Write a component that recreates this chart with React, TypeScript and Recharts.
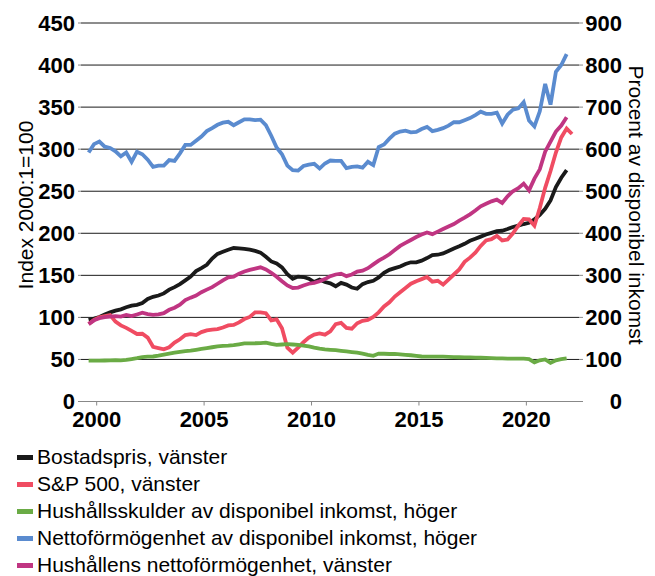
import { LineChart, Line, XAxis, YAxis, CartesianGrid, Legend, Label } from 'recharts';

const FONT = '"Liberation Sans", Arial, sans-serif';

// kvartal, första punkten 1999K4
const quarters = [
  '1999K4',
  '2000K1', '2000K2', '2000K3', '2000K4', '2001K1', '2001K2', '2001K3', '2001K4',
  '2002K1', '2002K2', '2002K3', '2002K4', '2003K1', '2003K2', '2003K3', '2003K4',
  '2004K1', '2004K2', '2004K3', '2004K4', '2005K1', '2005K2', '2005K3', '2005K4',
  '2006K1', '2006K2', '2006K3', '2006K4', '2007K1', '2007K2', '2007K3', '2007K4',
  '2008K1', '2008K2', '2008K3', '2008K4', '2009K1', '2009K2', '2009K3', '2009K4',
  '2010K1', '2010K2', '2010K3', '2010K4', '2011K1', '2011K2', '2011K3', '2011K4',
  '2012K1', '2012K2', '2012K3', '2012K4', '2013K1', '2013K2', '2013K3', '2013K4',
  '2014K1', '2014K2', '2014K3', '2014K4', '2015K1', '2015K2', '2015K3', '2015K4',
  '2016K1', '2016K2', '2016K3', '2016K4', '2017K1', '2017K2', '2017K3', '2017K4',
  '2018K1', '2018K2', '2018K3', '2018K4', '2019K1', '2019K2', '2019K3', '2019K4',
  '2020K1', '2020K2', '2020K3', '2020K4', '2021K1', '2021K2', '2021K3', '2021K4',
  '2022K1', '2022K2',
];

const bostadspris = [
  97, 98.5, 100.5, 103.5, 106, 108, 109.6, 112, 114, 115,
  117, 122, 124.5, 126, 128.5, 133, 136, 139.5, 144, 148.5,
  155, 158.5, 162.5, 170, 175.5, 178, 180.5, 182.5, 182, 181.5,
  180.5, 179, 177, 172, 166.5, 164, 159.5, 151.5, 146, 148.5,
  148, 146, 142, 145, 142, 140.5, 137, 141, 139, 135.5,
  134, 139.5, 142, 143.5, 147.5, 153, 156.5, 158.5, 160.5, 163.5,
  165.5, 165.5, 167.5, 170.5, 174, 174.5, 176, 179, 182, 184.5,
  187.5, 191, 193.5, 196, 198.5, 200.5, 202.5, 203, 205, 207.5,
  209, 211, 212.5, 216.5, 222, 229, 239, 255, 266, 275,
];

const sp500 = [
  92, 97, 100, 101.5, 102.8, 95, 90.5, 87.5, 84, 80.3,
  80.5, 76, 65, 63.5, 62, 64.5, 70, 74, 79, 80,
  79, 82.5, 84.5, 85.5, 86, 88, 90.5, 91, 94, 98,
  100.5, 106, 106, 105, 96.5, 97.7, 87, 64, 58, 64,
  70.5, 76, 79.5, 81, 79.5, 83.5, 92, 93.5, 87.5, 86.5,
  93, 96, 97, 100.5, 106, 113, 118, 124.8, 130, 135,
  140, 143, 145.5, 148, 142.5, 143.5, 139, 145, 151, 157,
  166, 171, 177, 185, 191.5, 193, 197, 191.5, 192.5, 200,
  209, 217, 216.5, 209, 230, 254, 274, 296, 314, 324.5,
  318,
];

const hushallsskulder = [
  97, 97, 97, 97.5, 98, 98.5, 98, 99, 101, 103,
  105.5, 106.5, 107, 109, 111.5, 114, 116, 118, 120, 121,
  123, 125, 127, 129, 131, 132.5, 132.7, 134, 136, 138,
  138.4, 138.5, 139, 139.8, 137, 134.5, 135.5, 136.5, 135.5, 134.4,
  133, 131, 128, 125.5, 124, 123, 122, 120.5, 119, 117.5,
  116, 114, 111, 108.5, 114, 113.5, 113, 113, 112, 111,
  110, 108.5, 107, 106.5, 106.5, 106.5, 106.5, 106, 105.5, 105.2,
  105, 104.7, 104.5, 104, 103.5, 103, 102.7, 102.5, 102, 102,
  102, 102, 101, 93, 98, 100, 92, 98, 100.5, 102.5,
];

const nettoformogenhetAndel = [
  592, 612, 618, 606, 603, 595, 583, 592, 570, 594,
  588, 575, 558, 561, 561, 574, 572, 590, 610, 610,
  620, 630, 643, 650, 658, 663, 665, 657, 664, 671,
  671, 669, 670, 657, 632, 604, 588, 561, 550, 549,
  560, 563, 565, 554, 566, 573, 572, 572, 555, 558,
  559, 556, 570, 562, 605, 611, 625, 637, 642, 644,
  640, 641, 648, 653, 643, 646, 650, 656, 664, 664,
  669, 674, 681, 689, 684, 684, 687, 661, 682, 694,
  697, 712, 668, 654, 690, 755, 706, 784, 800, 826,
];

const nettoformogenhet = [
  92, 96.5, 99, 100.3, 101, 101.5, 101, 103, 101.5, 103.5,
  105.5, 104, 103, 103.5, 105, 109, 111.5, 115, 120.5, 123.5,
  126, 130, 133, 136, 140, 144, 147.5, 148.5, 152, 154.5,
  156.5, 158, 159.5, 157, 153, 148.4, 143, 138, 135, 135.5,
  138, 140, 141, 143, 145.5, 149, 151, 152, 149, 151,
  154.5, 155.5, 158.5, 163, 167.5, 171, 175, 180, 185, 188.5,
  192, 195.5, 198.5, 201, 199, 202, 205, 208, 211, 215,
  218.5, 222.5, 227, 232, 235, 238, 240, 236, 244, 250,
  253.5, 259, 251, 265, 276, 297, 309, 321, 328, 338,
];

const xTicks = [2000, 2005, 2010, 2015, 2020];
const leftTicks = [0, 50, 100, 150, 200, 250, 300, 350, 400, 450];
const rightTicks = [0, 100, 200, 300, 400, 500, 600, 700, 800, 900];

const seriesNames = [
  'Bostadspris, vänster',
  'S&P 500, vänster',
  'Hushållsskulder av disponibel inkomst, höger',
  'Nettoförmögenhet av disponibel inkomst, höger',
  'Hushållens nettoförmögenhet, vänster',
];

const data = quarters.map((q, i) => ({
  q,
  t: 1999.625 + i * 0.25,
  bostad: bostadspris[i] ?? null,
  sp: sp500[i] ?? null,
  skuld: hushallsskulder[i] ?? null,
  nettoAndel: nettoformogenhetAndel[i] ?? null,
  netto: nettoformogenhet[i] ?? null,
}));

const tickStyle = { fontSize: 22, fontWeight: 'bold', fill: '#000', fontFamily: FONT };

function RightTick(props: any) {
  const { x, y, payload } = props;
  return (
    <text x={x + 37} y={y} dy="0.355em" textAnchor="end" {...tickStyle}>
      {payload.value}
    </text>
  );
}

function LegendList(props: any) {
  // behåll seriernas ordning, inte alfabetisk
  const items = [...(props.payload || [])].sort(
    (a: any, b: any) => seriesNames.indexOf(a.value) - seriesNames.indexOf(b.value),
  );
  return (
    <div style={{ height: 144.5, paddingTop: 12, paddingLeft: 17, boxSizing: 'border-box', fontFamily: FONT }}>
      {items.map((it: any) => (
        <div key={it.value} style={{ display: 'flex', alignItems: 'center', height: 27, fontSize: 21, color: '#000', whiteSpace: 'nowrap' }}>
          <span style={{ display: 'inline-block', width: 16, height: 5, background: it.color, marginRight: 4 }} />
          {it.value}
        </div>
      ))}
    </div>
  );
}

export default function App() {
  return (
    <div style={{ position: 'absolute', left: 0, top: 0, width: 655, height: 576, background: '#fff' }}>
      <LineChart width={655} height={576} data={data} margin={{ top: 23, right: 0, bottom: 0, left: 21 }}>
        <CartesianGrid yAxisId="left" vertical={false} stroke="#1a1a1a" strokeWidth={1} />
        <XAxis
          dataKey="t"
          type="number"
          domain={[1999.27, 2022.45]}
          ticks={xTicks}
          interval={0}
          height={30}
          tickSize={4}
          tickMargin={6}
          axisLine={{ stroke: '#888' }}
          tickLine={{ stroke: '#888' }}
          tick={tickStyle}
        />
        <YAxis
          yAxisId="left"
          domain={[0, 450]}
          ticks={leftTicks}
          interval={0}
          width={60}
          tickSize={3}
          tickMargin={3}
          axisLine={false}
          tickLine={{ stroke: '#888' }}
          tick={tickStyle}
        >
          <Label
            content={() => (
              <text x={25} y={205} transform="rotate(-90 25 205)" textAnchor="middle" dominantBaseline="central"
                fontSize={21} fontFamily={FONT} fill="#000">
                Index 2000:1=100
              </text>
            )}
          />
        </YAxis>
        <YAxis
          yAxisId="right"
          orientation="right"
          domain={[0, 900]}
          ticks={rightTicks}
          interval={0}
          width={76}
          tickSize={4}
          tickMargin={2}
          axisLine={false}
          tickLine={{ stroke: '#888' }}
          tick={<RightTick />}
        >
          <Label
            content={() => (
              <text x={636} y={205} transform="rotate(90 636 205)" textAnchor="middle" dominantBaseline="central"
                fontSize={21} fontFamily={FONT} fill="#000">
                Procent av disponibel inkomst
              </text>
            )}
          />
        </YAxis>
        <Legend verticalAlign="bottom" align="left" wrapperStyle={{ left: 0 }} content={<LegendList />} />
        <Line yAxisId="left" dataKey="bostad" name={seriesNames[0]} stroke="#1a1a1a" strokeWidth={3.8} dot={false} isAnimationActive={false} />
        <Line yAxisId="left" dataKey="sp" name={seriesNames[1]} stroke="#f04c62" strokeWidth={3.8} dot={false} isAnimationActive={false} />
        <Line yAxisId="right" dataKey="skuld" name={seriesNames[2]} stroke="#6aab45" strokeWidth={3.8} dot={false} isAnimationActive={false} />
        <Line yAxisId="right" dataKey="nettoAndel" name={seriesNames[3]} stroke="#5a8bcf" strokeWidth={3.8} dot={false} isAnimationActive={false} />
        <Line yAxisId="left" dataKey="netto" name={seriesNames[4]} stroke="#c03582" strokeWidth={3.8} dot={false} isAnimationActive={false} />
      </LineChart>
    </div>
  );
}
